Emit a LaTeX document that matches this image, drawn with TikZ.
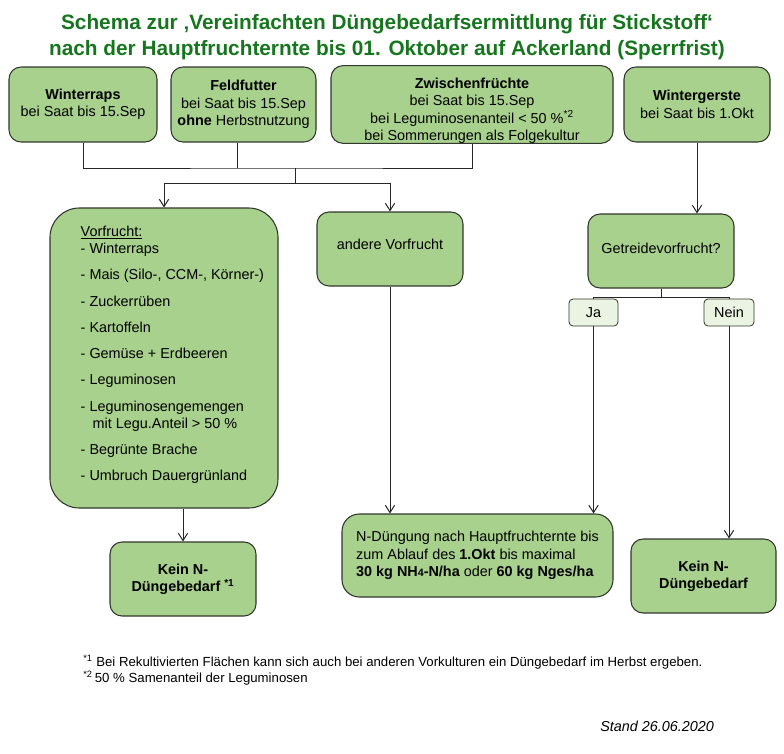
\documentclass[tikz,border=0pt]{standalone}
\usepackage{fontspec}
\setmainfont{Liberation Sans}
\usetikzlibrary{positioning}
\usetikzlibrary{calc}
\usepgflibrary{arrows.meta}
\usepackage{xcolor}

\definecolor{boxgreen}{RGB}{169,209,142}
\definecolor{palegreen}{RGB}{235,243,227}
\definecolor{titlegreen}{RGB}{22,118,30}
\definecolor{boxline}{RGB}{50,55,45}

\newcommand{\bodyfont}{\fontsize{10.8}{13}\selectfont}
\newcommand{\notefont}{\fontsize{9.9}{12}\selectfont}

\tikzset{
  boxsize/.style 2 args={minimum width=#1*0.75pt, minimum height=#2*0.75pt},
  cropbox/.style={draw=boxline, fill=boxgreen, rounded corners=9pt, line width=0.8pt, align=center, inner sep=0pt, font=\bodyfont},
  answerbox/.style={draw=boxline, fill=palegreen, rounded corners=3pt, line width=0.6pt, inner sep=0pt, font=\bodyfont},
  flow/.style={draw=black!85, line width=0.75pt},
  flowarrow/.style={flow, -{Straight Barb[length=5.5pt,width=7pt]}},
}

\begin{document}
\begin{tikzpicture}[x=0.75pt, y=-0.75pt]
    \useasboundingbox (0, 0) rectangle (784, 753);

    \node[text=titlegreen, font=\fontsize{15.6}{19.5}\selectfont\bfseries, align=center] (title) at (387, 37)
      {Schema zur ‚Vereinfachten Düngebedarfsermittlung für Stickstoff‘\\nach der Hauptfruchternte bis 01. Oktober auf Ackerland (Sperrfrist)};

    % crops
    \node[cropbox, boxsize={148}{75}] (raps) at (83, 104.5) {\textbf{Winterraps}\\bei Saat bis 15.Sep};
    \node[cropbox, boxsize={145}{75}] (futter) at (243.5, 104.5) {\textbf{Feldfutter}\\bei Saat bis 15.Sep\\\textbf{ohne} Herbstnutzung};
    \node[cropbox, boxsize={282}{75}] (zwischen) at (472, 104.5)
      {\rule{0pt}{17pt}\textbf{Zwischenfrüchte}\\bei Saat bis 15.Sep\\bei Leguminosenanteil < 50 \%\textsuperscript{*2}\\bei Sommerungen als Folgekultur};
    \node[cropbox, boxsize={146}{75}] (gerste) at (697, 104.5) {\textbf{Wintergerste}\\bei Saat bis 1.Okt};

    % previous crop
    \node[cropbox, rounded corners=22pt, boxsize={228}{300}] (vorfrucht) at (164, 358) {};
    \node[anchor=north west, align=left, inner sep=0pt, font=\bodyfont] (vorliste) at ($(vorfrucht.north west)+(31, 18)$)
      {\underline{Vorfrucht:}\\
       - Winterraps\\[6.7pt]
       - Mais (Silo-, CCM-, Körner-)\\[6.7pt]
       - Zuckerrüben\\[6.7pt]
       - Kartoffeln\\[6.7pt]
       - Gemüse + Erdbeeren\\[6.7pt]
       - Leguminosen\\[6.7pt]
       - Leguminosengemengen\\
       \hspace*{9pt}mit Legu.Anteil > 50 \%\\[6.7pt]
       - Begrünte Brache\\[6.7pt]
       - Umbruch Dauergrünland};
    \node[cropbox, boxsize={146}{74}] (andere) at (390, 249) {andere Vorfrucht\rule[-7.5pt]{0pt}{7.5pt}};
    \node[cropbox, boxsize={146}{74}] (getreide) at (661, 251) {Getreidevorfrucht?\rule[-4.5pt]{0pt}{4.5pt}};
    \node[answerbox, boxsize={49}{27}] (ja) at (593.5, 312.5) {Ja};
    \node[answerbox, boxsize={50}{27}] (nein) at (729, 312.5) {Nein};

    % results
    \node[cropbox, boxsize={146}{74}, font=\bodyfont\bfseries] (keinlinks) at (183, 579) {Kein N-\\Düngebedarf \textsuperscript{*1}};
    \node[cropbox, boxsize={271}{83}, align=left, rounded corners=13pt] (nduengung) at (477.5, 555.5)
      {N-Düngung nach Hauptfruchternte bis\\zum Ablauf des \textbf{1.Okt} bis maximal\\\textbf{30 kg NH{\fontsize{8}{8}\selectfont 4}-N/ha} oder \textbf{60 kg Nges/ha}};
    \node[cropbox, boxsize={145}{74}, font=\bodyfont\bfseries] (keinrechts) at (703.5, 576) {Kein N-\\Düngebedarf};

    % connectors
    \coordinate (topjoin) at (295, 168);
    \coordinate (split) at (295, 183);
    \coordinate (futterfoot) at (237, 168);
    \coordinate (choice) at ($(getreide.south)+(0, 9)$);

    \path[flow] (raps.south) |- (topjoin) -| (zwischen.south);
    \path[flow] (futterfoot |- futter.south) -- (futterfoot);
    \path[flow] (topjoin) -- (split);
    \path[flowarrow] (split) -| (vorfrucht.north);
    \path[flowarrow] (split) -| (andere.north);
    \path[flowarrow] (gerste.south) -- (gerste.south |- getreide.north);
    \path[flow] (getreide.south) -- (choice);
    \path[flow] (ja.north) |- (choice) -| (nein.north);
    \path[flowarrow] (ja.south) -- (ja.south |- nduengung.north);
    \path[flowarrow] (nein.south) -- (nein.south |- keinrechts.north);
    \path[flowarrow] (andere.south) -- (andere.south |- nduengung.north);
    \path[flowarrow] (keinlinks.north |- vorfrucht.south) -- (keinlinks.north);

    % notes
    \node[anchor=base west, inner sep=0pt, font=\notefont] (noteone) at (83, 666)
      {\textsuperscript{*1} Bei Rekultivierten Flächen kann sich auch bei anderen Vorkulturen ein Düngebedarf im Herbst ergeben.};
    \node[anchor=base west, inner sep=0pt, font=\notefont] (notetwo) at (83, 682)
      {\textsuperscript{*2}\,50 \% Samenanteil der Leguminosen};
    \node[anchor=base west, inner sep=0pt, font=\bodyfont\itshape] (stand) at (600, 731) {Stand 26.06.2020};
\end{tikzpicture}
\end{document}
